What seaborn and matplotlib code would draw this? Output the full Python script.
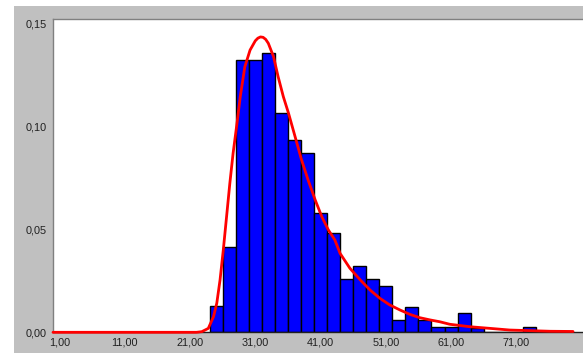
import matplotlib
matplotlib.use("Agg")
import matplotlib.pyplot as plt
import seaborn as sns
import pandas as pd
from matplotlib.patches import Rectangle

# ---- data ----
bin_centers = [25, 27, 29, 31, 33, 35, 37, 39, 41, 43, 45, 47, 49, 51, 53,
               55, 57, 59, 61, 63, 65, 73]
bin_heights = [0.0126, 0.0416, 0.1322, 0.1322, 0.1354, 0.1065, 0.0933, 0.0869,
               0.0579, 0.0482, 0.0257, 0.0322, 0.0257, 0.0223, 0.0060,
               0.0124, 0.0060, 0.0027, 0.0027, 0.0092, 0.0019, 0.0027]

curve_x = [0.0, 22.0, 22.8, 23.8, 24.6, 25.1, 25.6, 26.1, 26.6, 27.1, 27.6, 28.2,
           28.7, 29.4, 30.2, 31.0, 31.4, 31.8, 32.2, 32.6, 33.0, 33.8, 34.5,
           35.3, 36.1, 37.1, 38.1, 39.1, 40.2, 41.2, 42.2, 43.2, 44.0, 45.5,
           47.1, 48.6, 50.1, 51.6, 53.2, 54.7, 56.2, 57.8, 59.3, 60.8, 63.9,
           67.0, 70.0, 73.1, 76.2, 79.7]
curve_y = [0.0, 0.0, 0.0003, 0.0019, 0.0076, 0.0141, 0.0254, 0.0400, 0.0561,
           0.0723, 0.0869, 0.1015, 0.1144, 0.1289, 0.1370, 0.1415, 0.1428,
           0.1434, 0.1432, 0.1422, 0.1403, 0.1338, 0.1241, 0.1144, 0.1063,
           0.0950, 0.0836, 0.0739, 0.0641, 0.0561, 0.0497, 0.0448, 0.0383,
           0.0311, 0.0254, 0.0205, 0.0165, 0.0133, 0.0108, 0.0087, 0.0071,
           0.0060, 0.0051, 0.0039, 0.0027, 0.0019, 0.0011, 0.0008, 0.0005,
           0.0004]

x_ticks = list(range(1, 81, 2))
x_tick_labels = ["1,00", "11,00", "21,00", "31,00", "41,00", "51,00", "61,00", "71,00"]
y_ticks = [0.0, 0.05, 0.10, 0.15]
y_tick_labels = ["0,00", "0,05", "0,10", "0,15"]

bars = pd.DataFrame({"center": bin_centers, "height": bin_heights})
curve = pd.DataFrame({"x": curve_x, "y": curve_y})

sns.set_style("white")
plt.rcParams["font.family"] = ["Liberation Sans", "DejaVu Sans"]

W, H = 583, 353
fig = plt.figure(figsize=(W / 100, H / 100), dpi=100, facecolor="white")
# grey panel background
fig.patches.append(Rectangle((14 / W, 0), 1 - 14 / W, (H - 6) / H,
                             transform=fig.transFigure, facecolor="#c0c0c0",
                             edgecolor="none", zorder=-10))

ax = fig.add_axes([53 / W, (H - 332.3) / H, 1 - 53 / W, (332.3 - 19) / H])
ax.set_facecolor("white")

sns.histplot(data=bars, x="center", weights="height", binwidth=2,
             binrange=(24, 74), stat="count", color="#0000ff",
             edgecolor="black", linewidth=1.0, alpha=1.0, ax=ax)
sns.lineplot(data=curve, x="x", y="y", color="#ff0000", linewidth=2.0,
             ax=ax, zorder=5, clip_on=False)

ax.set_xlim(0, (583 - 53) / 6.525)
ax.set_ylim(0, 0.1521)

ax.set_xticks(x_ticks)
labels = []
for t in x_ticks:
    labels.append(x_tick_labels[(t - 1) // 10] if (t - 1) % 10 == 0 else "")
ax.set_xticklabels(labels)
ax.set_yticks(y_ticks)
ax.set_yticklabels(y_tick_labels)
ax.tick_params(axis="x", direction="out", length=2, width=1.2, color="#707070",
               labelsize=7.8, pad=2, labelcolor="#202020")
ax.tick_params(axis="y", direction="out", length=3, width=0.8, color="#404040",
               labelsize=7.8, pad=1.5, labelcolor="#202020")
ax.set_xlabel("")
ax.set_ylabel("")

for side in ["top", "left"]:
    ax.spines[side].set_color("#808080")
    ax.spines[side].set_linewidth(1.0)
ax.spines["bottom"].set_color("#202020")
ax.spines["bottom"].set_linewidth(1.0)
ax.spines["right"].set_visible(False)

fig.savefig("out.png", dpi=100, facecolor=fig.get_facecolor())
